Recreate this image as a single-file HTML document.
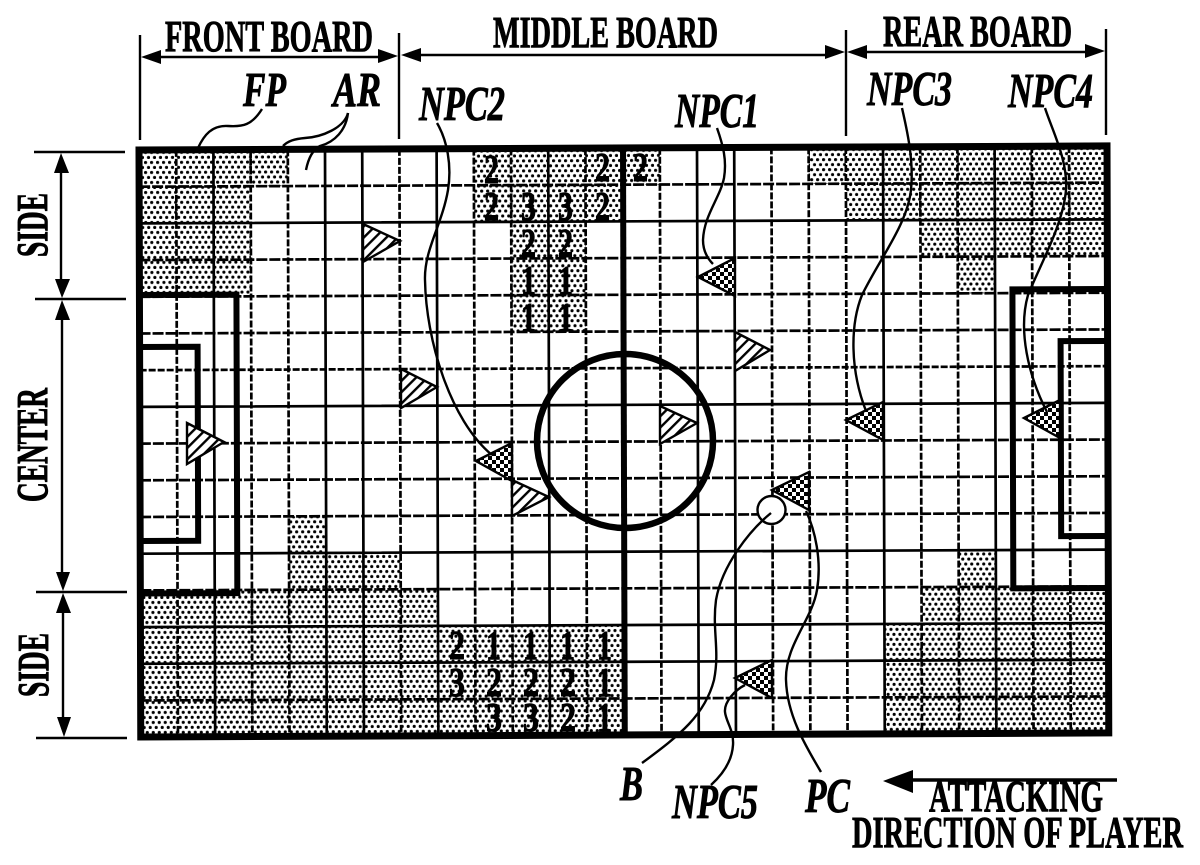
<!DOCTYPE html>
<html><head><meta charset="utf-8"><title>Diagram</title>
<style>
html,body{margin:0;padding:0;background:#fff}
svg{display:block}
text{font-family:"Liberation Serif",serif;font-weight:bold;fill:#000;stroke:#000;stroke-width:0.9}
.h{font-size:44px}
.i{font-size:49px;font-style:italic}
.n{font-size:41px}
.l{fill:none;stroke:#000;stroke-width:2.4}
.g{fill:none;stroke:#000;stroke-width:2.7}
.d{stroke-dasharray:7 2}
.e{stroke-dasharray:11 2}
</style></head><body>
<svg width="1200" height="865" viewBox="0 0 1200 865" xmlns="http://www.w3.org/2000/svg">
<defs>
<pattern id="dot" width="6" height="10" patternUnits="userSpaceOnUse">
<rect width="6" height="10" fill="#fff"/>
<circle cx="1.5" cy="2.5" r="1.6" fill="#000"/><circle cx="4.5" cy="7.5" r="1.6" fill="#000"/>
</pattern>
<pattern id="hat" width="8" height="8" patternUnits="userSpaceOnUse" patternTransform="rotate(-45)">
<rect width="8" height="8" fill="#fff"/><rect width="8" height="2.4" fill="#000"/>
</pattern>
<pattern id="chk" width="8" height="8" patternUnits="userSpaceOnUse">
<rect width="8" height="8" fill="#fff"/><rect width="4" height="4" fill="#000"/><rect x="4" y="4" width="4" height="4" fill="#000"/>
</pattern>
</defs>
<rect width="1200" height="865" fill="#fff"/>

<g transform="matrix(1 -0.0042 0.003 1 -0.45 0.584)">
<!-- shaded cells -->
<g fill="url(#dot)">
<rect x="139" y="150" width="148.8" height="36.7"/>
<rect x="473.8" y="150" width="186" height="36.7"/>
<rect x="808.6" y="150" width="297.4" height="36.7"/>
<rect x="139" y="186.7" width="111.6" height="110.1"/>
<rect x="473.8" y="186.7" width="148.8" height="36.7"/>
<rect x="845.8" y="186.7" width="260.2" height="36.7"/>
<rect x="511" y="223.4" width="74.4" height="110.1"/>
<rect x="920.2" y="223.4" width="185.8" height="36.7"/>
<rect x="957.4" y="260.1" width="37.2" height="36.7"/>
<rect x="287.8" y="517" width="37.2" height="36.7"/>
<rect x="287.8" y="553.7" width="111.6" height="36.7"/>
<rect x="957.4" y="553.7" width="37.2" height="36.7"/>
<rect x="139" y="590.4" width="297.6" height="36.7"/>
<rect x="920.2" y="590.4" width="185.8" height="36.7"/>
<rect x="139" y="627.1" width="483.6" height="110"/>
<rect x="883" y="627.1" width="223" height="110"/>
</g>
<!-- penalty box interiors -->
<rect x="141" y="295" width="95" height="298" fill="#fff"/>
<rect x="1012" y="292" width="94" height="298" fill="#fff"/>
<!-- grid -->
<path class="g d" d="M176.2 150V737M250.6 150V737M287.8 150V737M399.4 150V737M473.8 150V737M511 150V737M585.4 150V737M659.8 150V737M771.4 150V737M808.6 150V737M845.8 150V737M920.2 150V737M957.4 150V737M1031.8 150V737M1069 150V737"/>
<path class="g" d="M213.4 150V737M325 150V737M362.2 150V737M436.6 150V737M548.2 150V737M697 150V737M734.2 150V737M883 150V737M994.6 150V737"/>
<path class="g e" d="M139 186.7H1106M139 260.1H1106M139 296.8H1106M139 333.5H1106M139 443.6H1106M139 480.3H1106M139 517H1106M139 590.4H1106M139 700.5H1106"/>
<path class="g d" d="M139 370.2H1106"/>
<path class="g" d="M139 223.4H1106M139 406.9H1106M139 553.7H1106M139 627.1H1106M139 663.8H1106"/>
<!-- penalty boxes -->
<path fill="none" stroke="#000" stroke-width="6" d="M139 295H236V593.5H139"/>
<path fill="none" stroke="#000" stroke-width="6" d="M139 347H197V541H139"/>
<path fill="none" stroke="#000" stroke-width="6" d="M1106 293H1012V592H1106"/>
<path fill="none" stroke="#000" stroke-width="6" d="M1106 345H1060V540H1106"/>
<!-- halfway -->
<path stroke="#000" stroke-width="6" d="M623 150V737"/>
<!-- outer border -->
<rect x="139" y="150" width="968" height="587" fill="none" stroke="#000" stroke-width="7"/>
</g>

<!-- centre circle -->
<ellipse cx="625" cy="441" rx="88" ry="87" fill="none" stroke="#000" stroke-width="6.5"/>

<!-- numbers -->
<g class="n">
<text class="n" x="484" y="183" textLength="15" lengthAdjust="spacingAndGlyphs">2</text>
<text class="n" x="595" y="181" textLength="15" lengthAdjust="spacingAndGlyphs">2</text>
<text class="n" x="633" y="181" textLength="15" lengthAdjust="spacingAndGlyphs">2</text>
<text class="n" x="484" y="220" textLength="15" lengthAdjust="spacingAndGlyphs">2</text>
<text class="n" x="521" y="220" textLength="15" lengthAdjust="spacingAndGlyphs">3</text>
<text class="n" x="558" y="220" textLength="15" lengthAdjust="spacingAndGlyphs">3</text>
<text class="n" x="595" y="220" textLength="15" lengthAdjust="spacingAndGlyphs">2</text>
<text class="n" x="521" y="257" textLength="15" lengthAdjust="spacingAndGlyphs">2</text>
<text class="n" x="558" y="257" textLength="15" lengthAdjust="spacingAndGlyphs">2</text>
<text class="n" x="521" y="294" textLength="15" lengthAdjust="spacingAndGlyphs">1</text>
<text class="n" x="558" y="294" textLength="15" lengthAdjust="spacingAndGlyphs">1</text>
<text class="n" x="521" y="331" textLength="15" lengthAdjust="spacingAndGlyphs">1</text>
<text class="n" x="558" y="331" textLength="15" lengthAdjust="spacingAndGlyphs">1</text>
<text class="n" x="449" y="659" textLength="16" lengthAdjust="spacingAndGlyphs">2</text>
<text class="n" x="486" y="659" textLength="15" lengthAdjust="spacingAndGlyphs">1</text>
<text class="n" x="523" y="659" textLength="15" lengthAdjust="spacingAndGlyphs">1</text>
<text class="n" x="560" y="659" textLength="15" lengthAdjust="spacingAndGlyphs">1</text>
<text class="n" x="597" y="659" textLength="15" lengthAdjust="spacingAndGlyphs">1</text>
<text class="n" x="449" y="696" textLength="16" lengthAdjust="spacingAndGlyphs">3</text>
<text class="n" x="486" y="696" textLength="16" lengthAdjust="spacingAndGlyphs">2</text>
<text class="n" x="523" y="696" textLength="16" lengthAdjust="spacingAndGlyphs">2</text>
<text class="n" x="560" y="696" textLength="16" lengthAdjust="spacingAndGlyphs">2</text>
<text class="n" x="597" y="696" textLength="15" lengthAdjust="spacingAndGlyphs">1</text>
<text class="n" x="486" y="731" textLength="16" lengthAdjust="spacingAndGlyphs">3</text>
<text class="n" x="523" y="731" textLength="16" lengthAdjust="spacingAndGlyphs">3</text>
<text class="n" x="560" y="731" textLength="16" lengthAdjust="spacingAndGlyphs">2</text>
<text class="n" x="597" y="731" textLength="15" lengthAdjust="spacingAndGlyphs">1</text>
</g>

<!-- hatched triangles -->
<g fill="url(#hat)" stroke="#000" stroke-width="2.4" stroke-linejoin="miter">
<polygon points="363,224 400,241 363,262"/>
<polygon points="401,369 437,387 401,408"/>
<polygon points="735,332 770,350 735,371"/>
<polygon points="187,423 224,442 187,464"/>
<polygon points="660,406 697,423 660,444"/>
<polygon points="512,480 549,497 512,516"/>
</g>
<!-- checkered triangles -->
<g fill="url(#chk)" stroke="#000" stroke-width="2.4">
<polygon points="698,277 735,258 735,296"/>
<polygon points="476,461 512,443 512,481"/>
<polygon points="846,420 883,402 883,440"/>
<polygon points="1024,418 1060,400 1060,438"/>
<polygon points="772,490 809,472 809,510"/>
<polygon points="735,678 772,660 772,698"/>
</g>
<!-- ball -->
<circle cx="771.5" cy="510" r="14" fill="#fff" stroke="#000" stroke-width="2.4"/>

<!-- leaders -->
<g class="l">
<path d="M262 109C252 125 243 127 228 126C212 125 204 135 198 148"/>
<path d="M348 113C344 128 322 137 305 138C294 139 288 141 283 146"/>
<path d="M348 113C346 130 335 142 320 146C312 150 308 160 306 170"/>
<path d="M437 123C447 140 452 165 448 190C442 225 424 250 425 280C426 340 450 420 492 455"/>
<path d="M717 128C723 145 727 160 724 178C720 198 704 215 703 240C703 250 707 258 713 264"/>
<path d="M902 108C907 130 914 160 911 190C907 225 880 258 862 295C850 325 850 370 866 411"/>
<path d="M1045 108C1052 130 1068 160 1066 190C1063 225 1040 265 1028 295C1018 330 1028 375 1047 412"/>
<path d="M771 513C750 530 722 565 716 600C712 630 720 650 714 680C705 715 680 735 642 763"/>
<path d="M806 511C815 530 822 560 817 590C812 620 785 645 786 680C787 715 805 745 821 772"/>
<path d="M745 685C735 690 724 702 725 712C726 722 734 730 733 745C732 762 722 775 711 785"/>
</g>

<!-- top dimensions -->
<g stroke="#000" stroke-width="2.4" fill="none">
<path d="M140 35V140M399 33V139M846 30V136M1106 29V135"/>
<path d="M155 57H385M415 55H830M862 52H1092"/>
</g>
<g fill="#000">
<polygon points="141,57 161,50 161,64"/>
<polygon points="398,56 378,49 378,63"/>
<polygon points="401,55 421,48 421,62"/>
<polygon points="845,52 825,45 825,59"/>
<polygon points="847,52 867,45 867,59"/>
<polygon points="1105,51 1085,44 1085,58"/>
</g>

<!-- left dimensions -->
<g stroke="#000" stroke-width="2.4" fill="none">
<path d="M34 152H125M35 299H126M36 592H127M36 738H127"/>
<path d="M61 165V290M62 310V580M63 605V725"/>
</g>
<g fill="#000">
<polygon points="61,153 54,173 69,173"/>
<polygon points="62,298 55,279 70,279"/>
<polygon points="62,300 55,320 70,320"/>
<polygon points="63,591 56,572 70,572"/>
<polygon points="63,593 56,613 71,613"/>
<polygon points="64,737 57,717 71,717"/>
</g>

<!-- attack arrow -->
<path stroke="#000" stroke-width="3.5" d="M905 780H1117"/>
<polygon points="883,781 913,770 913,793" fill="#000"/>

<!-- labels -->
<text class="h" x="165" y="51" textLength="208" lengthAdjust="spacingAndGlyphs">FRONT BOARD</text>
<text class="h" x="493" y="47" textLength="225" lengthAdjust="spacingAndGlyphs">MIDDLE BOARD</text>
<text class="h" x="883" y="46" textLength="189" lengthAdjust="spacingAndGlyphs">REAR BOARD</text>
<text class="i" x="243" y="106" textLength="43" lengthAdjust="spacingAndGlyphs">FP</text>
<text class="i" x="333" y="106" textLength="48" lengthAdjust="spacingAndGlyphs">AR</text>
<text class="i" x="419" y="120" textLength="86" lengthAdjust="spacingAndGlyphs">NPC2</text>
<text class="i" x="675" y="127" textLength="84" lengthAdjust="spacingAndGlyphs">NPC1</text>
<text class="i" x="867" y="105" textLength="85" lengthAdjust="spacingAndGlyphs">NPC3</text>
<text class="i" x="1008" y="107" textLength="85" lengthAdjust="spacingAndGlyphs">NPC4</text>
<text class="i" x="620" y="800" textLength="23" lengthAdjust="spacingAndGlyphs">B</text>
<text class="i" x="672" y="818" textLength="86" lengthAdjust="spacingAndGlyphs">NPC5</text>
<text class="i" x="805" y="812" textLength="45" lengthAdjust="spacingAndGlyphs">PC</text>
<text class="h" x="929" y="811" textLength="174" lengthAdjust="spacingAndGlyphs">ATTACKING</text>
<text class="h" x="852" y="847" textLength="331" lengthAdjust="spacingAndGlyphs">DIRECTION OF PLAYER</text>
<text class="h" transform="translate(47 257) rotate(-90)" x="0" y="0" textLength="64" lengthAdjust="spacingAndGlyphs">SIDE</text>
<text class="h" transform="translate(47 502) rotate(-90)" x="0" y="0" textLength="114" lengthAdjust="spacingAndGlyphs">CENTER</text>
<text class="h" transform="translate(48 697) rotate(-90)" x="0" y="0" textLength="64" lengthAdjust="spacingAndGlyphs">SIDE</text>
</svg>
</body></html>
